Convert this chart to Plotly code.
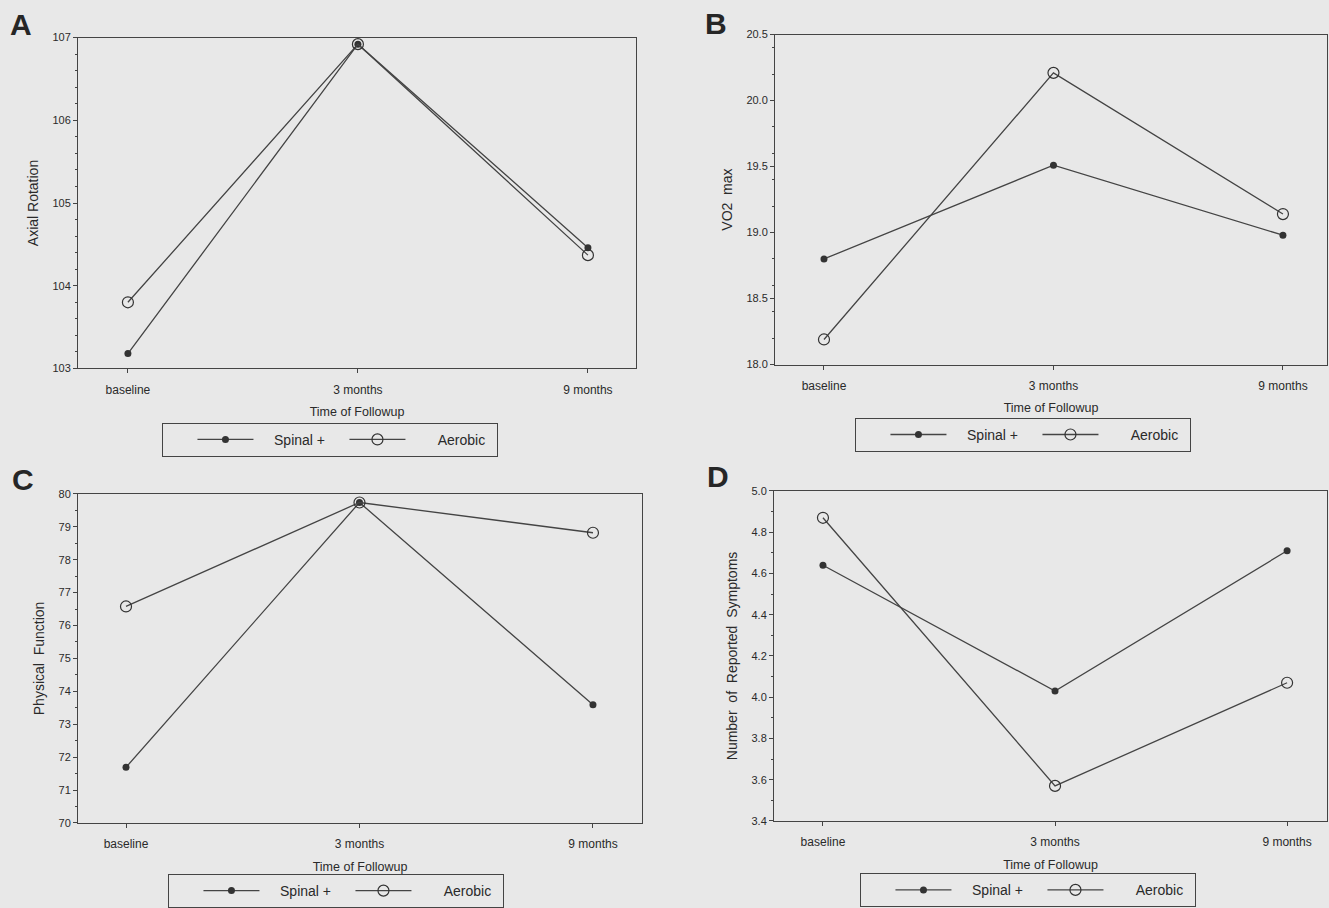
import plotly.graph_objects as go

W, H = 1329, 908

time_labels = ["baseline", "3 months", "9 months"]
time_pos = [0, 1, 2]

axial_spinal = [103.18, 106.92, 104.46]
axial_aerobic = [103.80, 106.92, 104.37]

vo2_spinal = [18.80, 19.51, 18.98]
vo2_aerobic = [18.19, 20.21, 19.14]

phys_spinal = [71.69, 79.74, 73.59]
phys_aerobic = [76.58, 79.74, 78.82]

symp_spinal = [4.64, 4.03, 4.71]
symp_aerobic = [4.87, 3.57, 4.07]

series_names = ["Spinal +", "Aerobic"]

panels = [
    ("A", "Axial Rotation", axial_spinal, axial_aerobic, [103, 107], 1, "{:.0f}"),
    ("B", "VO2  max", vo2_spinal, vo2_aerobic, [18.0, 20.5], 0.5, "{:.1f}"),
    ("C", "Physical  Function", phys_spinal, phys_aerobic, [70, 80], 1, "{:.0f}"),
    ("D", "Number  of  Reported  Symptoms", symp_spinal, symp_aerobic, [3.4, 5.0], 0.2, "{:.1f}"),
]

# pixel geometry of each panel: (left, right, top, bottom, xleft_val, xright_val)
geom = [
    (78, 636, 38, 373, -0.217, 2.209),
    (775, 1327, 35, 369, -0.2135, 2.192),
    (78, 642, 500, 833, -0.2056, 2.21),
    (774, 1327, 497, 831, -0.211, 2.172),
]
legend_pos = [(162, 428), (855, 423), (168, 885), (860, 884)]
letter_pos = [(21, 25), (716, 24), (23, 485), (718, 482)]

LINE = "#444444"
TXT = "#2a2a2a"
BG = "#e8e8e8"
FONT = "Liberation Sans, Arial, sans-serif"
NB = "\u00a0"

fig = go.Figure()
layout = dict(
    width=W, height=H,
    paper_bgcolor=BG, plot_bgcolor=BG,
    margin=dict(l=0, r=0, t=0, b=0),
    font=dict(family=FONT, color=TXT),
)

for i, (letter, ytitle, sp, ae, yr, dt, fmt) in enumerate(panels):
    n = "" if i == 0 else str(i + 1)
    xa, ya = "x" + n, "y" + n
    leg = "legend" + n
    l, r, t, b, xl, xr = geom[i]
    layout["xaxis" + n] = dict(
        domain=[l / W, r / W], range=[xl, xr], anchor=ya,
        tickvals=time_pos, ticktext=time_labels,
        ticks="outside", ticklen=4, tickcolor=LINE,
        ticklabelstandoff=6,
        showline=True, linecolor=LINE, linewidth=1, mirror=True,
        showgrid=False, zeroline=False,
        tickfont=dict(size=12, color=TXT),
        title=dict(text="Time of Followup", font=dict(size=12.5, color=TXT), standoff=11),
        automargin=False, fixedrange=True,
    )
    ticks = []
    v = yr[0]
    while v <= yr[1] + 1e-9:
        ticks.append(round(v, 4))
        v += dt
    layout["yaxis" + n] = dict(
        domain=[1 - b / H, 1 - t / H], range=yr, anchor=xa,
        tickvals=ticks, ticktext=[fmt.format(x) for x in ticks],
        ticks="outside", ticklen=4, tickcolor=LINE,
        minor=dict(ticks="outside", ticklen=2, tickcolor=LINE, nticks=5),
        showline=True, linecolor=LINE, linewidth=1, mirror=True,
        showgrid=False, zeroline=False,
        tickfont=dict(size=11, color=TXT),
        title=dict(text=ytitle, font=dict(size=14, color=TXT), standoff=10),
        automargin=False, fixedrange=True,
    )
    lx, ly = legend_pos[i]
    layout[leg] = dict(
        x=lx / W, y=1 - ly / H, xanchor="left", yanchor="top",
        orientation="h", bgcolor=BG, bordercolor=LINE, borderwidth=1,
        font=dict(size=14, color=TXT, family=FONT),
        itemwidth=56,
        entrywidth=81, entrywidthmode="pixels",
        title=dict(text=NB * 5, side="left", font=dict(size=14)),
        itemclick=False, itemdoubleclick=False,
    )
    fig.add_trace(go.Scatter(
        x=time_pos, y=sp, xaxis=xa, yaxis=ya, mode="lines+markers",
        name=NB * 4 + series_names[0], legend=leg, showlegend=True,
        line=dict(color=LINE, width=1.3),
        marker=dict(symbol="circle", size=7, color="#333333"),
    ))
    fig.add_trace(go.Scatter(
        x=time_pos, y=ae, xaxis=xa, yaxis=ya, mode="lines+markers",
        name=NB * 7 + series_names[1], legend=leg, showlegend=True,
        line=dict(color=LINE, width=1.3),
        marker=dict(symbol="circle-open", size=11, color="#333333", line=dict(width=1.2)),
    ))

annotations = []
for i, (letter, *_rest) in enumerate(panels):
    px, py = letter_pos[i]
    annotations.append(dict(
        text="<b>%s</b>" % letter, x=px / W, y=1 - py / H, xref="paper", yref="paper",
        showarrow=False, xanchor="center", yanchor="middle",
        font=dict(size=30, color="#262626", family=FONT),
    ))
layout["annotations"] = annotations

fig.update_layout(**layout)
fig.write_html(
    "out.html",
    config={"displayModeBar": False},
    post_script="document.body.style.margin='0';document.body.style.overflow='hidden';",
)
